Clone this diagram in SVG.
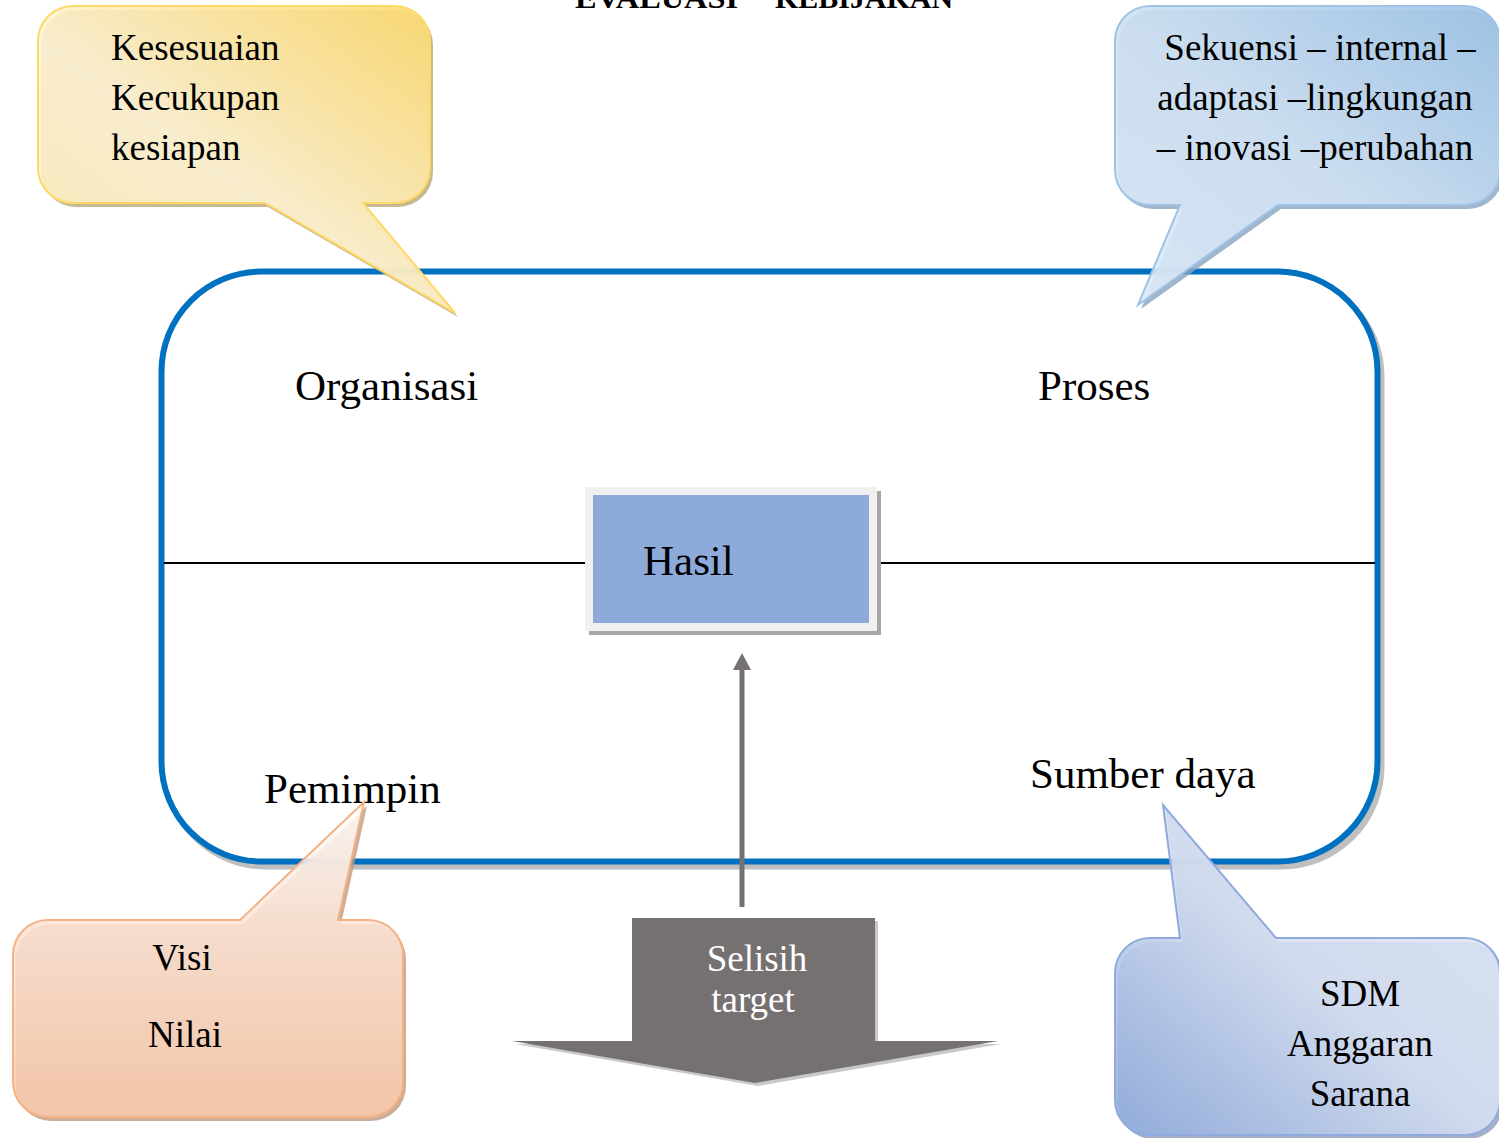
<svg xmlns="http://www.w3.org/2000/svg" width="1499" height="1138" viewBox="0 0 1499 1138">
  <style>
    .serif { font-family: "Liberation Serif", "Times New Roman", serif; fill: #000; }
    .lbl { font-size: 43px; }
    .note { font-size: 37px; }
    .title { font-size: 30px; font-weight: bold; }
    .frame { fill: #FFFFFF; stroke: #0070C0; stroke-width: 6; }
    .frame-shadow { fill: #BFBFBF; stroke: #BFBFBF; stroke-width: 6; }
    .divider { stroke: #000; stroke-width: 2; }
    .inverse { fill: #FFFFFF; }
  </style>
  <defs>
    <linearGradient id="gYellow" x1="0" y1="1" x2="1" y2="0">
      <stop offset="0" stop-color="#FFEDB8"/>
      <stop offset="0.45" stop-color="#FFF4D6"/>
      <stop offset="1" stop-color="#FFD966"/>
    </linearGradient>
    <linearGradient id="gBlueTop" x1="0" y1="1" x2="1" y2="0">
      <stop offset="0" stop-color="#DEEBF8"/>
      <stop offset="0.5" stop-color="#CFE1F3"/>
      <stop offset="1" stop-color="#9DC3E6"/>
    </linearGradient>
    <linearGradient id="gBlueBottom" x1="0" y1="1" x2="1" y2="0">
      <stop offset="0" stop-color="#8FAADC"/>
      <stop offset="0.5" stop-color="#D6E0F2"/>
      <stop offset="0.8" stop-color="#DCE5F4"/>
      <stop offset="1" stop-color="#BCCBEA"/>
    </linearGradient>
    <linearGradient id="gOrange" gradientUnits="userSpaceOnUse" x1="0" y1="800" x2="0" y2="1117">
      <stop offset="0" stop-color="#FFFFFF"/>
      <stop offset="0.4" stop-color="#FBE3D5"/>
      <stop offset="1" stop-color="#F7C8A9"/>
    </linearGradient>
  </defs>

  <!-- heading -->
  <g id="heading">
    <text class="serif title" x="575" y="8" textLength="163" lengthAdjust="spacingAndGlyphs">EVALUASI</text>
    <text class="serif title" x="775" y="8" textLength="178" lengthAdjust="spacingAndGlyphs">KEBIJAKAN</text>
  </g>

  <!-- outer rounded frame -->
  <g id="frame">
    <rect class="frame-shadow" x="165.5" y="276.5" width="1216" height="590" rx="100" ry="100"/>
    <rect class="frame" x="161.5" y="271.5" width="1216" height="590" rx="100" ry="100"/>
  </g>

  <!-- connectors -->
  <g id="connectors">
    <line class="divider" x1="164" y1="563" x2="585" y2="563"/>
    <line class="divider" x1="877" y1="563" x2="1375" y2="563"/>
    <line x1="742" y1="907" x2="742" y2="668" stroke="#767171" stroke-width="5"/>
    <polygon points="742,653 733,670 751,670" fill="#767171"/>
  </g>

  <!-- quadrant labels -->
  <g id="organisasi"><text class="serif lbl" x="295" y="400">Organisasi</text></g>
  <g id="proses"><text class="serif lbl" x="1038" y="400">Proses</text></g>
  <g id="pemimpin"><text class="serif lbl" x="264" y="803">Pemimpin</text></g>
  <g id="sumber-daya"><text class="serif lbl" x="1030" y="788">Sumber daya</text></g>

  <!-- central result box -->
  <g id="hasil">
    <rect x="589" y="491" width="292" height="144" fill="#A6A6A6"/>
    <rect x="585" y="487" width="292" height="144" fill="#F0F0F0"/>
    <rect x="593" y="495" width="276" height="128" fill="#8EAADB"/>
    <text class="serif lbl" x="643" y="575">Hasil</text>
  </g>

  <!-- gap-to-target block arrow -->
  <g id="selisih-target">
    <path d="M635,921 H878 V1044 H1001 L758,1086 L515,1044 H635 Z" fill="#C8C8C8"/>
    <path d="M632,918 H875 V1041 H998 L755,1083 L512,1041 H632 Z" fill="#767171"/>
    <text class="serif note inverse" x="757" y="971" text-anchor="middle">Selisih</text>
    <text class="serif note inverse" x="753" y="1012" text-anchor="middle">target</text>
  </g>

  <!-- callout: organisation criteria -->
  <g id="callout-organisasi">
    <path transform="translate(3,4)" d="M73,6 H395 A35,35 0 0 1 430,41 V168 A35,35 0 0 1 395,203 H363 L455,313 L265,203 H73 A35,35 0 0 1 38,168 V41 A35,35 0 0 1 73,6 Z" fill="#B8A878" fill-opacity="0.8"/>
    <path d="M73,6 H395 A35,35 0 0 1 430,41 V168 A35,35 0 0 1 395,203 H363 L455,313 L265,203 H73 A35,35 0 0 1 38,168 V41 A35,35 0 0 1 73,6 Z" fill="url(#gYellow)" fill-opacity="0.88" stroke="#FFD966" stroke-width="2"/>
    <text class="serif note" x="111" y="60">Kesesuaian</text>
    <text class="serif note" x="111" y="110">Kecukupan</text>
    <text class="serif note" x="111" y="160">kesiapan</text>
  </g>

  <!-- callout: process aspects -->
  <g id="callout-proses">
    <path transform="translate(3,4)" d="M1150,6 H1465 A35,35 0 0 1 1500,41 V170 A35,35 0 0 1 1465,205 H1278 L1138,305 L1180,205 H1150 A35,35 0 0 1 1115,170 V41 A35,35 0 0 1 1150,6 Z" fill="#8AA4C0" fill-opacity="0.8"/>
    <path d="M1150,6 H1465 A35,35 0 0 1 1500,41 V170 A35,35 0 0 1 1465,205 H1278 L1138,305 L1180,205 H1150 A35,35 0 0 1 1115,170 V41 A35,35 0 0 1 1150,6 Z" fill="url(#gBlueTop)" fill-opacity="0.9" stroke="#9DC3E6" stroke-width="2"/>
    <text class="serif note" x="1320" y="60" text-anchor="middle">Sekuensi – internal –</text>
    <text class="serif note" x="1315" y="110" text-anchor="middle">adaptasi –lingkungan</text>
    <text class="serif note" x="1315" y="160" text-anchor="middle">– inovasi –perubahan</text>
  </g>

  <!-- callout: leadership -->
  <g id="callout-pemimpin">
    <path transform="translate(3,4)" d="M48,920 H240 L364,802 L338,920 H368 A35,35 0 0 1 403,955 V1082 A35,35 0 0 1 368,1117 H48 A35,35 0 0 1 13,1082 V955 A35,35 0 0 1 48,920 Z" fill="#C09880" fill-opacity="0.8"/>
    <path d="M48,920 H240 L364,802 L338,920 H368 A35,35 0 0 1 403,955 V1082 A35,35 0 0 1 368,1117 H48 A35,35 0 0 1 13,1082 V955 A35,35 0 0 1 48,920 Z" fill="url(#gOrange)" fill-opacity="0.88" stroke="#F4B183" stroke-width="2"/>
    <text class="serif note" x="182" y="970" text-anchor="middle">Visi</text>
    <text class="serif note" x="185" y="1047" text-anchor="middle">Nilai</text>
  </g>

  <!-- callout: resources -->
  <g id="callout-sumber-daya">
    <path transform="translate(3,4)" d="M1150,938 H1180 L1163,805 L1276,938 H1465 A35,35 0 0 1 1500,973 V1100 A35,35 0 0 1 1465,1135 H1150 A35,35 0 0 1 1115,1100 V973 A35,35 0 0 1 1150,938 Z" fill="#8E9CB8" fill-opacity="0.8"/>
    <path d="M1150,938 H1180 L1163,805 L1276,938 H1465 A35,35 0 0 1 1500,973 V1100 A35,35 0 0 1 1465,1135 H1150 A35,35 0 0 1 1115,1100 V973 A35,35 0 0 1 1150,938 Z" fill="url(#gBlueBottom)" fill-opacity="0.9" stroke="#8FAADC" stroke-width="2"/>
    <text class="serif note" x="1360" y="1006" text-anchor="middle">SDM</text>
    <text class="serif note" x="1360" y="1056" text-anchor="middle">Anggaran</text>
    <text class="serif note" x="1360" y="1106" text-anchor="middle">Sarana</text>
  </g>
</svg>
